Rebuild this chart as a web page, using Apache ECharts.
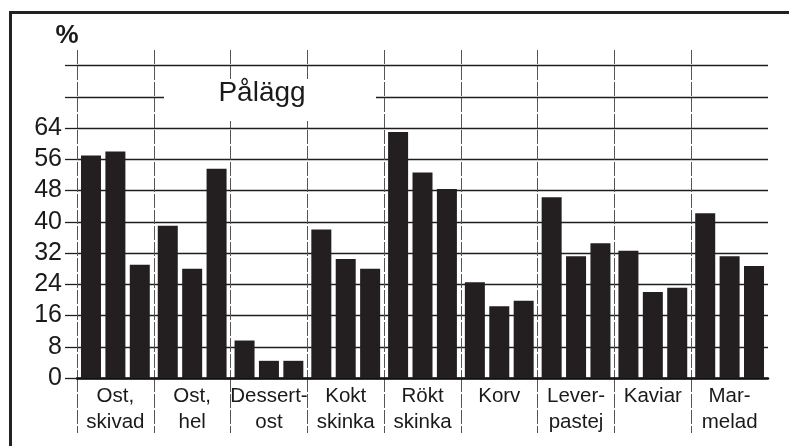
<!DOCTYPE html>
<html>
<head>
<meta charset="utf-8">
<script src="https://cdn.jsdelivr.net/npm/echarts@6/dist/echarts.min.js"></script>
<style>
html,body{margin:0;padding:0;background:#fff;}
#chart{width:789px;height:446px;}
</style>
</head>
<body>
<div id="chart"></div>
<script>
const categories = ['Ost,\nskivad','Ost,\nhel','Dessert-\nost','Kokt\nskinka','Rökt\nskinka','Korv','Lever-\npastej','Kaviar','Mar-\nmelad'];
const series1 = [57, 39, 9.6, 38, 63, 24.5, 46.3, 32.6, 42.2];
const series2 = [58, 28, 4.4, 30.5, 52.6, 18.4, 31.2, 22, 31.2];
const series3 = [29, 53.6, 4.4, 28, 48.4, 19.8, 34.5, 23.1, 28.7];
const yTickLabels = [0, 8, 16, 24, 32, 40, 48, 56, 64];
const gridValues = [0, 8, 16, 24, 32, 40, 48, 56, 64, 72, 80];
const yMax = 84;
const unitLabel = '%';
const titleText = 'Pålägg';

const FONT = '"Liberation Sans", Arial, sans-serif';
const BAR = '#231f20';
const HLINE = '#1e1e1e';
const VLINE = '#555';

const chart = echarts.init(document.getElementById('chart'), null, {renderer: 'canvas'});

function barSeries(data) {
  return {
    type: 'bar', xAxisIndex: 0, yAxisIndex: 0, data: data,
    barWidth: 20, barGap: '22%',
    itemStyle: {color: BAR},
    z: 3
  };
}

chart.setOption({
  animation: false,
  backgroundColor: '#fff',
  grid: [
    {left: 77, right: 21, top: 50, bottom: 68, containLabel: false},
    {left: 77, right: 21, top: 378, height: 55, containLabel: false}
  ],
  xAxis: [
    {
      type: 'category', gridIndex: 0, data: categories, boundaryGap: true,
      axisLine: {show: true, onZero: false, lineStyle: {color: '#111', width: 2.5}},
      axisTick: {show: false},
      axisLabel: {
        interval: 0, margin: 5, hideOverlap: false,
        fontFamily: FONT, fontSize: 20.5, color: '#1a1a1a', lineHeight: 26
      },
      splitLine: {show: true, showMinLine: true, showMaxLine: false, interval: 0,
        lineStyle: {color: VLINE, width: 1, type: [14, 2]}}
    },
    {
      type: 'category', gridIndex: 1, data: categories, boundaryGap: true,
      axisLine: {show: false}, axisTick: {show: false}, axisLabel: {show: false},
      splitLine: {show: true, showMinLine: true, showMaxLine: false, interval: 0,
        lineStyle: {color: VLINE, width: 1, type: [14, 2]}}
    }
  ],
  yAxis: [
    {
      type: 'value', gridIndex: 0, min: 0, max: yMax,
      axisLine: {show: false},
      axisTick: {show: true, length: 12, customValues: gridValues, lineStyle: {color: HLINE, width: 1.3}},
      axisLabel: {
        customValues: yTickLabels, margin: 15,
        fontFamily: FONT, fontSize: 25, color: '#1a1a1a'
      },
      splitLine: {show: true, showMinLine: true, showMaxLine: true, lineStyle: {color: HLINE, width: 1.3}}
    },
    {
      type: 'value', gridIndex: 1, show: false,
      splitLine: {show: false}
    }
  ],
  series: [barSeries(series1), barSeries(series2), barSeries(series3)],
  graphic: [
    {
      type: 'rect', z: 100, silent: true,
      shape: {x: 10.5, y: 12.5, width: 900, height: 600},
      style: {fill: 'none', stroke: '#222', lineWidth: 3}
    },
    {
      type: 'rect', z: 90, silent: true,
      shape: {x: 164, y: 79, width: 212, height: 42},
      style: {fill: '#fff'}
    },
    {
      type: 'text', z: 95, silent: true,
      x: 262, y: 93,
      style: {text: titleText, font: '28px ' + FONT, fill: '#1a1a1a', align: 'center', verticalAlign: 'middle'}
    },
    {
      type: 'text', z: 95, silent: true,
      x: 67, y: 36,
      style: {text: unitLabel, font: 'bold 26px ' + FONT, fill: '#1a1a1a', align: 'center', verticalAlign: 'middle'}
    }
  ]
});
</script>
</body>
</html>
